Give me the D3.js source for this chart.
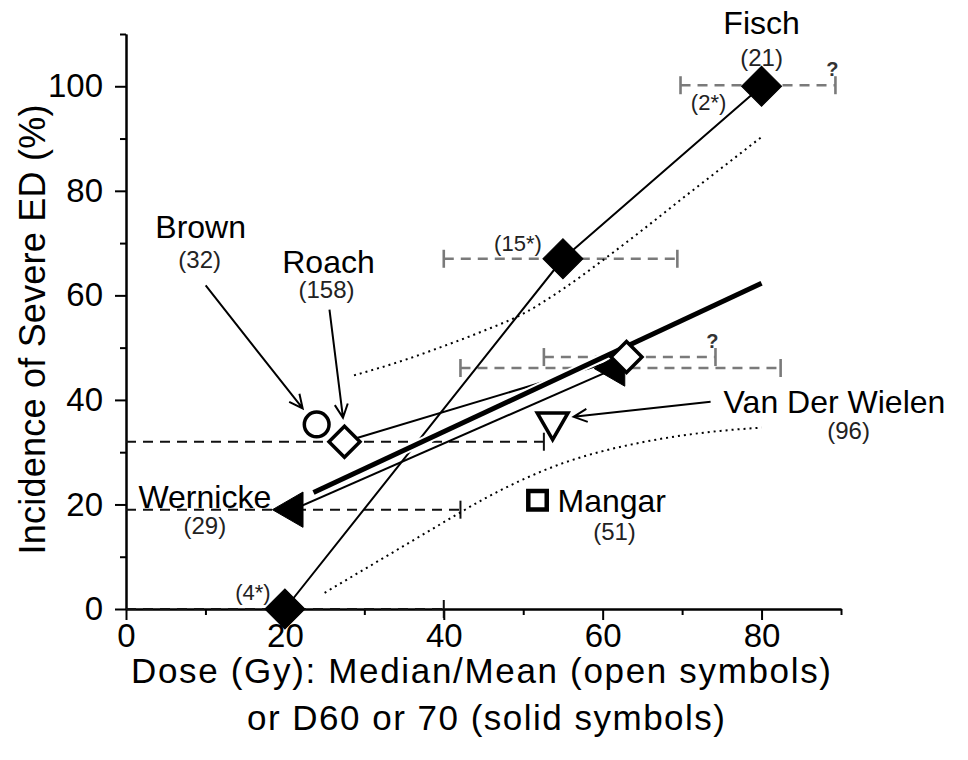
<!DOCTYPE html>
<html>
<head>
<meta charset="utf-8">
<script src="https://cdn.jsdelivr.net/npm/d3@7"></script>
<style>
  body { margin: 0; background: #fff; }
  svg { display: block; font-family: 'Liberation Sans', Arial, sans-serif; }
</style>
</head>
<body>
<div id="app"></div>
<script>
// studies and patient counts
let studyNames = ['Fisch', 'Roach', 'Brown', 'Wernicke', 'Van Der Wielen', 'Mangar']
let studyN = [21, 158, 32, 29, 96, 51]

// plotted points (dose in Gy, incidence in %)
let pointStudy = ['Fisch', 'Fisch', 'Fisch', 'Roach', 'Roach', 'Brown', 'Wernicke', 'Wernicke', 'Van Der Wielen', 'Mangar']
let pointDose = [20, 55, 80, 27.5, 63, 24, 21, 61.5, 53.7, 51.8]
let pointIncidence = [0, 67, 100, 32, 48.2, 35.3, 19, 46, 35.8, 20.8]
let pointSymbol = ['diamond', 'diamond', 'diamond', 'diamond', 'diamond', 'circle', 'triangleLeft', 'triangleLeft', 'triangleDown', 'square']
let pointSolid = [true, true, true, false, false, false, true, true, false, false]

// Fisch dose subgroups
let fischSubgroup = ['(4*)', '(15*)', '(2*)']

// dose ranges (black = median ranges, grey = D60/70 ranges)
let blackBarIncidence = [0, 19, 32]
let blackBarLow = [0, 0, 0]
let blackBarHigh = [40, 42.1, 52.6]
let greyBarIncidence = [46.1, 48.2, 67, 100.2]
let greyBarLow = [42.1, 52.6, 40, 69.8]
let greyBarHigh = [82.4, 74.2, 69.4, 89.3]
let greyBarUnknownEnd = [false, true, false, true]

// fitted dose response and its bounds
let fitDose = [23.6, 80]
let fitIncidence = [22.3, 62.3]
let upperDose = [28.7, 35, 40, 45, 50, 55, 60, 65, 70, 75, 80]
let upperIncidence = [44.7, 47.6, 50.3, 53.2, 56.5, 61.2, 66.7, 72.5, 78.5, 84.4, 90.3]
let lowerDose = [25, 30, 35, 40, 45, 50, 55, 60, 65, 70, 75, 80]
let lowerIncidence = [3.1, 7.6, 12.1, 16.6, 21, 24.8, 27.9, 30.2, 31.9, 33.2, 34.1, 34.7]

let xMajor = [0, 20, 40, 60, 80]
let xMinor = [10, 30, 50, 70, 90]
let yMajor = [0, 20, 40, 60, 80, 100]
let yMinor = [10, 30, 50, 70, 90, 110]

const width = 968
const height = 760

const svg = d3.select('#app')
  .append('svg')
  .attr('width', width)
  .attr('height', height)

svg.append('rect')
  .attr('width', width)
  .attr('height', height)
  .attr('fill', '#fff')

const x = d3.scaleLinear().domain([0, 90]).range([126, 841])
const y = d3.scaleLinear().domain([0, 110]).range([609, 34])

let points = pointDose.map((d, i) => ({
  study: pointStudy[i],
  dose: d,
  incidence: pointIncidence[i],
  symbol: pointSymbol[i],
  solid: pointSolid[i]
}))
let px = (study, k = 0) => {
  let p = points.filter(d => d.study === study)[k]
  return [x(p.dose), y(p.incidence)]
}

// axes
let styleAxis = (g) => {
  g.attr('font-size', 33).attr('font-family', null)
  g.selectAll('line').attr('stroke', '#000').attr('stroke-width', 2)
  g.selectAll('.domain').attr('stroke', '#000').attr('stroke-width', 2)
  g.selectAll('text').attr('fill', '#000')
}

svg.append('g')
  .attr('transform', `translate(0,${y(0)})`)
  .call(d3.axisBottom(x).tickValues(xMinor).tickSize(6).tickSizeOuter(0).tickFormat(''))
  .call(styleAxis)
svg.append('g')
  .attr('transform', `translate(0,${y(0)})`)
  .call(d3.axisBottom(x).tickValues(xMajor).tickSize(11).tickSizeOuter(0).tickPadding(4))
  .call(styleAxis)
svg.append('g')
  .attr('transform', `translate(${x(0)},0)`)
  .call(d3.axisLeft(y).tickValues(yMinor).tickSize(6).tickSizeOuter(0).tickFormat(''))
  .call(styleAxis)
svg.append('g')
  .attr('transform', `translate(${x(0)},0)`)
  .call(d3.axisLeft(y).tickValues(yMajor).tickSize(11).tickSizeOuter(0).tickPadding(12))
  .call(styleAxis)

svg.append('text')
  .attr('transform', `translate(45,${(y(0) + y(110)) / 2 + 8}) rotate(-90)`)
  .attr('text-anchor', 'middle')
  .attr('font-size', 36)
  .attr('textLength', 450)
  .text('Incidence of Severe ED (%)')

svg.append('text')
  .attr('x', 481)
  .attr('y', 683)
  .attr('text-anchor', 'middle')
  .attr('font-size', 35)
  .attr('textLength', 700)
  .text('Dose (Gy): Median/Mean (open symbols)')
svg.append('text')
  .attr('x', 486)
  .attr('y', 730)
  .attr('text-anchor', 'middle')
  .attr('font-size', 35)
  .attr('textLength', 478)
  .text('or D60 or 70 (solid symbols)')

// dose range bars
let drawBars = (ys, lows, highs, color, width) => {
  let bars = svg.append('g')
  ys.forEach((v, i) => {
    bars.append('line')
      .attr('x1', x(lows[i])).attr('x2', x(highs[i]))
      .attr('y1', y(v)).attr('y2', y(v))
      .attr('stroke', color)
      .attr('stroke-width', width)
      .attr('stroke-dasharray', '10,7')
    ;[lows[i], highs[i]].forEach(end => {
      if (end === 0) return
      bars.append('line')
        .attr('x1', x(end)).attr('x2', x(end))
        .attr('y1', y(v) - 9).attr('y2', y(v) + 9)
        .attr('stroke', color)
        .attr('stroke-width', width)
    })
  })
}
drawBars(greyBarIncidence, greyBarLow, greyBarHigh, '#7a7a7a', 2.6)
drawBars(blackBarIncidence, blackBarLow, blackBarHigh, '#111', 2)

greyBarIncidence.forEach((v, i) => {
  if (!greyBarUnknownEnd[i]) return
  svg.append('text')
    .attr('x', x(greyBarHigh[i]) - 3)
    .attr('y', y(v) - 9)
    .attr('text-anchor', 'middle')
    .attr('font-size', 20)
    .attr('font-weight', 'bold')
    .attr('fill', '#333')
    .text('?')
})

// bounds
let line = d3.line().x(d => x(d[0])).y(d => y(d[1])).curve(d3.curveMonotoneX)
svg.append('path')
  .datum(upperDose.map((d, i) => [d, upperIncidence[i]]))
  .attr('d', line)
  .attr('fill', 'none')
  .attr('stroke', '#000')
  .attr('stroke-width', 2)
  .attr('stroke-dasharray', '2,4')
svg.append('path')
  .datum(lowerDose.map((d, i) => [d, lowerIncidence[i]]))
  .attr('d', line)
  .attr('fill', 'none')
  .attr('stroke', '#000')
  .attr('stroke-width', 2)
  .attr('stroke-dasharray', '2,4')

// study connecting lines
let straight = d3.line().x(d => x(d.dose)).y(d => y(d.incidence))
;['Fisch', 'Roach', 'Wernicke'].forEach(s => {
  svg.append('path')
    .datum(points.filter(d => d.study === s))
    .attr('d', straight)
    .attr('fill', 'none')
    .attr('stroke', '#000')
    .attr('stroke-width', 2)
})

// fitted line
svg.append('path')
  .datum(fitDose.map((d, i) => [d, fitIncidence[i]]))
  .attr('d', d3.line().x(d => x(d[0])).y(d => y(d[1])))
  .attr('stroke', '#fff')
  .attr('stroke-width', 9)
svg.append('path')
  .datum(fitDose.map((d, i) => [d, fitIncidence[i]]))
  .attr('d', d3.line().x(d => x(d[0])).y(d => y(d[1])))
  .attr('stroke', '#000')
  .attr('stroke-width', 5)

// markers
let symbolTypes = {
  diamond: d3.symbolSquare,
  circle: d3.symbolCircle,
  triangleLeft: d3.symbolTriangle,
  triangleDown: d3.symbolTriangle,
  square: d3.symbolSquare
}
let symbolRotate = { diamond: 45, circle: 0, triangleLeft: -90, triangleDown: 180, square: 0 }
let symbolSize = (d) => {
  if (d.symbol === 'diamond') return d.solid ? 800 : 480
  if (d.symbol === 'circle') return 480
  if (d.symbol === 'triangleLeft') return 540
  if (d.symbol === 'triangleDown') return 410
  return 340
}
let drawOrder = [6, 7, 0, 1, 2, 5, 3, 4, 8, 9]
svg.append('g')
  .selectAll('path')
  .data(drawOrder.map(i => points[i]))
  .enter()
  .append('path')
  .attr('d', d => d3.symbol().type(symbolTypes[d.symbol]).size(symbolSize(d))())
  .attr('transform', d => `translate(${x(d.dose)},${y(d.incidence)}) rotate(${symbolRotate[d.symbol]})`)
  .attr('fill', d => d.solid ? '#000' : '#fff')
  .attr('stroke', '#000')
  .attr('stroke-width', d => d.solid ? 1 : (d.symbol === 'square' ? 4.5 : 3.5))
  .attr('stroke-linejoin', 'miter')

// arrows
let drawArrow = (x1, y1, x2, y2) => {
  let a = Math.atan2(y2 - y1, x2 - x1)
  let len = 15
  let s = 0.45
  svg.append('path')
    .attr('d', `M${x1},${y1}L${x2},${y2}` +
      `M${x2 - len * Math.cos(a - s)},${y2 - len * Math.sin(a - s)}L${x2},${y2}` +
      `L${x2 - len * Math.cos(a + s)},${y2 - len * Math.sin(a + s)}`)
    .attr('fill', 'none')
    .attr('stroke', '#000')
    .attr('stroke-width', 2)
}
let [bx, by] = px('Brown')
drawArrow(bx - 111, by - 139, bx - 14, by - 16)
let [rx, ry] = px('Roach')
drawArrow(rx - 15, ry - 132, rx - 1.5, ry - 24)
let [vx, vy] = px('Van Der Wielen')
drawArrow(vx + 158, vy - 20, vx + 21, vy - 5)

// labels
let nOf = s => `(${studyN[studyNames.indexOf(s)]})`
let label = (tx, ty, text, size, anchor = 'middle', fill = '#000') => {
  svg.append('text')
    .attr('x', tx)
    .attr('y', ty)
    .attr('text-anchor', anchor)
    .attr('font-size', size)
    .attr('fill', fill)
    .text(text)
}

let [fx, fy] = px('Fisch', 2)
label(fx, fy - 52, 'Fisch', 32)
label(fx, fy - 20, nOf('Fisch'), 24, 'middle', '#222')
points.filter(d => d.study === 'Fisch').forEach((d, i) => {
  let off = [[-32, -9], [-45, -8], [-53, 24]][i]
  label(x(d.dose) + off[0], y(d.incidence) + off[1], fischSubgroup[i], 22, 'middle', '#222')
})

label(bx - 116, by - 186, 'Brown', 32)
label(bx - 117, by - 156, nOf('Brown'), 24, 'middle', '#222')
label(rx - 16, ry - 169, 'Roach', 32)
label(rx - 18, ry - 144, nOf('Roach'), 24, 'middle', '#222')

let [wx, wy] = px('Wernicke')
label(wx - 88, wy - 2, 'Wernicke', 32)
label(wx - 88, wy + 24, nOf('Wernicke'), 24, 'middle', '#222')

label(vx + 171, vy - 9, 'Van Der Wielen', 32, 'start')
label(vx + 296, vy + 17, nOf('Van Der Wielen'), 24, 'middle', '#222')

let [mx, my] = px('Mangar')
label(mx + 20, my + 12, 'Mangar', 32, 'start')
label(mx + 77, my + 40, nOf('Mangar'), 24, 'middle', '#222')
</script>
</body>
</html>
